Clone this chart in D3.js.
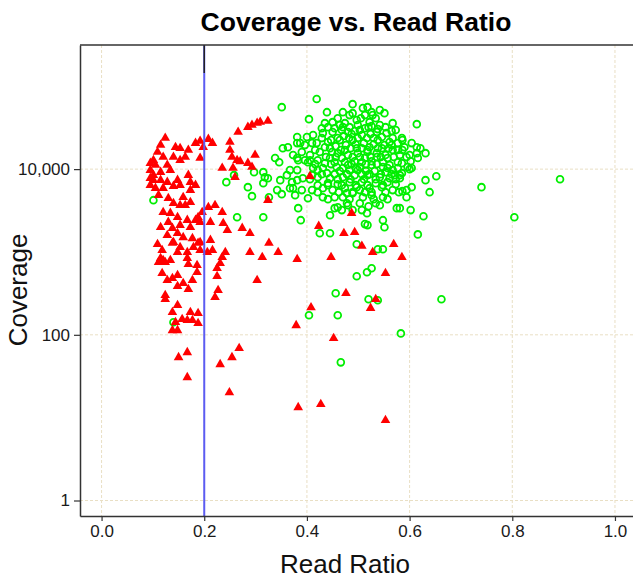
<!DOCTYPE html>
<html><head><meta charset="utf-8">
<script src="https://cdn.jsdelivr.net/npm/d3@7"></script>
<style>body{margin:0;background:#fff}svg{display:block}</style>
</head><body>
<svg id="chart" width="633" height="578"></svg>
<script>
// ---- data ----
const chartTitle = "Coverage vs. Read Ratio";
const xLabel = "Read Ratio";
const yLabel = "Coverage";
const xTicks = [0, 0.2, 0.4, 0.6, 0.8, 1.0];
const yTicks = [1, 100, 10000];
const threshold = 0.2;

// red triangles: [read ratio, coverage]
const redPoints = [
[0.124,23700],[0.115,19500],[0.144,18400],[0.153,17900],[0.169,17000],[0.183,20600],[0.192,21800],[0.208,23000],[0.216,20600],[0.198,18400],
[0.120,14000],[0.140,14000],[0.163,14000],[0.192,13600],[0.101,12800],[0.105,11200],[0.095,9730],[0.101,8460],[0.115,9200],[0.134,9730],
[0.101,7360],[0.115,7360],[0.128,6960],[0.148,7360],[0.169,8460],[0.173,6960],[0.105,5890],[0.120,5890],[0.140,6230],[0.153,6410],
[0.173,5580],[0.095,6410],[0.159,4580],[0.140,3880],[0.153,3670],[0.163,3670],[0.173,3990],[0.120,3020],[0.134,2940],[0.148,2630],
[0.167,2420],[0.183,2420],[0.196,3020],[0.208,3470],[0.221,3670],[0.235,3020],[0.130,2290],[0.115,1990],[0.138,1940],[0.153,2110],
[0.173,1990],[0.192,2290],[0.212,2290],[0.237,2220],[0.274,1940],[0.289,1680],[0.245,1830],[0.128,1590],[0.148,1680],[0.159,1500],
[0.140,1310],[0.177,1460],[0.192,1310],[0.212,1390],[0.109,1240],[0.153,1140],[0.179,1140],[0.138,1280],[0.167,992],[0.148,992],
[0.192,1050],[0.206,992],[0.216,1050],[0.241,992],[0.289,992],[0.313,864],[0.115,840],[0.124,751],[0.134,795],[0.111,751],
[0.167,840],[0.169,710],[0.186,692],[0.235,864],[0.231,731],[0.225,636],[0.118,553],[0.128,456],[0.138,482],[0.148,524],
[0.159,419],[0.148,386],[0.177,456],[0.186,569],[0.225,509],[0.303,456],[0.169,355],[0.227,345],[0.221,284],[0.124,300],
[0.124,268],[0.148,227],[0.138,187],[0.173,187],[0.188,182],[0.157,154],[0.167,150],[0.177,150],[0.188,138],[0.144,142],
[0.138,113],[0.148,113],[0.150,53.4],[0.167,61.4],[0.167,30.6],[0.231,44.0],[0.254,53.4],[0.268,68.7],[0.249,20.1],
[0.250,21200],[0.266,28000],[0.285,32100],[0.293,34000],[0.303,36000],[0.309,37000],[0.324,38000],[0.250,17000],[0.254,14000],[0.264,12800],
[0.270,12400],[0.299,14800],[0.285,11800],[0.293,10600],[0.235,10300],[0.256,10300],[0.260,7990],[0.324,4220],
[0.188,2630],[0.406,8220],[0.487,2940],[0.423,2050],[0.472,1680],[0.493,1730],[0.326,1280],
[0.344,992],[0.381,818],[0.447,864],[0.507,1180],[0.528,992],[0.569,1240],[0.585,864],[0.553,553],[0.476,317],[0.534,269],
[0.524,210],[0.408,214],[0.379,130],[0.452,90.8],[0.383,13.3],[0.427,14.5],[0.553,9.3],[0.120,795],[0.118,1050],[0.188,1280],[0.095,7790],
[0.109,16100],[0.095,11800],[0.111,4850],[0.128,11200],[0.153,12800],[0.183,6410],[0.130,4460]
];

// green circles: [read ratio, coverage]
const greenPoints = [
[0.101,4220],[0.140,142],[0.243,6960],[0.258,8460],[0.297,9200],[0.285,6060],[0.293,4720],[0.264,2630],[0.315,2630],[0.351,56000],
[0.381,24400],[0.353,17900],[0.363,18400],[0.338,13600],[0.346,12100],[0.373,14800],[0.381,13600],[0.315,9200],[0.318,7990],[0.324,7770],
[0.315,6770],[0.348,7360],[0.361,8460],[0.371,6960],[0.381,9730],[0.342,5580],[0.351,4990],[0.367,5890],[0.326,4580],[0.383,3380],
[0.388,2420],[0.419,70200],[0.439,48700],[0.404,40100],[0.614,34900],[0.567,35900],[0.509,54500],[0.518,56000],[0.551,47400],[0.425,1680],
[0.445,1680],[0.445,2780],[0.454,3380],[0.460,3470],[0.480,3670],[0.517,2940],[0.513,2170],[0.518,2110],[0.548,2420],[0.551,1990],
[0.534,3880],[0.575,3380],[0.602,3200],[0.627,2700],[0.616,1630],[0.631,7360],[0.652,8220],[0.639,5270],[0.604,6060],[0.594,4580],
[0.614,18400],[0.621,17900],[0.631,15600],[0.604,10300],[0.586,22400],[0.586,17000],[0.594,14000],[0.614,15600],[0.616,13600],[0.602,12450],
[0.585,11800],[0.600,10000],[0.585,8940],[0.581,7770],[0.586,5420],[0.581,3380],[0.740,6060],[0.893,7560],[0.804,2630],[0.497,1240],
[0.538,1080],[0.548,1080],[0.526,636],[0.517,569],[0.497,509],[0.456,317],[0.520,269],[0.538,261],[0.662,269],[0.404,172],
[0.460,172],[0.583,104],[0.466,46.5],[0.390,5580],[0.410,5580],
[0.542,51600],[0.528,44900],[0.513,44900],[0.483,44900],[0.489,47400],[0.450,36900],[0.435,35900],[0.464,34000],[0.474,35900],[0.497,39100],
[0.522,36900],[0.542,34000],[0.400,24400],[0.412,25800],[0.431,27200],[0.450,28000],[0.480,28000],[0.503,29600],[0.536,28000],[0.555,27200],
[0.585,23700],[0.381,20600],[0.396,19500],[0.419,20600],[0.441,21200],[0.464,22400],[0.489,22400],[0.517,23700],[0.538,22400],[0.561,21200],
[0.590,18400],[0.600,14800],[0.390,16100],[0.406,14800],[0.425,16100],[0.449,16100],[0.474,17000],[0.497,17900],[0.522,18400],[0.546,17900],
[0.567,17000],[0.581,14800],[0.402,12100],[0.421,12800],[0.445,13600],[0.468,13600],[0.489,14000],[0.513,13600],[0.536,14000],[0.557,13600],
[0.577,12100],[0.596,10600],[0.367,9730],[0.412,10300],[0.431,10300],[0.458,10600],[0.480,11200],[0.503,10600],[0.526,11200],[0.548,10600],
[0.567,9730],[0.381,7360],[0.392,7770],[0.421,7990],[0.445,7770],[0.470,7990],[0.493,8460],[0.518,8460],[0.542,7990],[0.561,7770],
[0.581,8460],[0.373,5890],[0.431,5890],[0.450,5580],[0.474,5890],[0.497,6060],[0.522,5890],[0.546,6060],[0.567,5580],[0.594,5580],
[0.454,4580],[0.489,5130],[0.509,4580],[0.526,4850],[0.548,4580],[0.503,3880],[0.520,3570],[0.478,3880],[0.377,4850],[0.402,4460],
[0.431,4580],[0.470,4580],[0.542,3670],
[0.454,31200],[0.468,29600],[0.483,32100],[0.499,34000],[0.513,31200],[0.526,33000],[0.538,30400],[0.472,25100],[0.487,26500],[0.507,25800],
[0.524,26500],[0.546,24400],[0.456,18950],[0.476,19500],[0.495,20000],[0.511,20600],[0.530,20000],[0.551,19500],[0.460,15600],[0.480,14800],
[0.499,15600],[0.518,16100],[0.536,15600],[0.553,14800],[0.454,12100],[0.474,12100],[0.493,12450],[0.507,12100],[0.526,12450],[0.548,12100],
[0.464,9460],[0.483,9730],[0.499,9730],[0.515,9460],[0.532,9460],[0.553,9200],[0.439,8940],[0.421,9730],[0.435,18400],[0.416,17000],
[0.447,22400],[0.429,31200],[0.565,19500],[0.573,29600],[0.561,11200],[0.573,6580],[0.557,6960],[0.534,6770],[0.507,6960],[0.483,6960],
[0.460,6580],[0.441,6770],[0.421,6410],[0.410,8460],[0.396,12800],[0.503,5580],[0.526,5270],[0.478,5130],[0.435,11800],[0.571,8460],
[0.460,41200],[0.505,41200],[0.534,41200],[0.441,32100],[0.470,32100],[0.520,32100],[0.553,32100],[0.493,28800],[0.565,28800],
[0.429,23700],[0.460,23700],[0.482,23700],[0.499,23700],[0.530,23700],[0.567,23700],[0.445,17900],[0.485,17900],[0.507,17900],[0.538,17900],
[0.559,17900],[0.466,17000],[0.518,17000],[0.577,17000],[0.437,14000],[0.456,14000],[0.503,14000],[0.524,14000],[0.544,14000],[0.569,14000],
[0.416,11500],[0.447,11500],[0.487,11500],[0.515,11500],[0.536,11500],[0.470,10300],[0.495,10300],[0.557,10300],[0.577,10300],
[0.429,8700],[0.454,8700],[0.478,8700],[0.507,8700],[0.522,8700],[0.544,8700],[0.565,8700],[0.406,7560],[0.460,7560],[0.485,7560],
[0.511,7560],[0.534,7560],[0.573,7560],[0.441,6410],[0.468,6410],[0.495,6410],[0.518,6410],[0.548,6410],[0.421,5270],[0.462,5270],
[0.489,5270],[0.513,5270],[0.553,5270],[0.579,5270],[0.441,4340],[0.483,4340],[0.530,4340],[0.557,4340],[0.468,3200],[0.489,3200],
[0.507,3200],[0.387,20600],[0.410,20600],[0.577,20600],[0.604,20600],[0.383,12800],[0.406,12800],[0.470,48700],[0.526,48700],[0.489,60900]
];

// ---- layout ----
const W = 633, H = 578;
const plot = {left: 80, top: 45, right: 635.5, bottom: 516};
const FONT = "'Liberation Sans', Arial, Helvetica, sans-serif";

const svg = d3.select("#chart");
const x = d3.scaleLinear().domain([-0.042, 1.04]).range([plot.left, plot.right]);
const y = d3.scaleLog().domain([0.65, 315000]).range([plot.bottom, plot.top]);

svg.append("defs").append("clipPath").attr("id", "clip")
  .append("rect").attr("x", plot.left).attr("y", plot.top)
  .attr("width", plot.right - plot.left).attr("height", plot.bottom - plot.top);

// gridlines
const grid = svg.append("g").attr("stroke", "#e9dfc4").attr("stroke-width", 1).attr("stroke-dasharray", "3,2");
grid.selectAll("line.vx").data(xTicks).join("line")
  .attr("x1", d => x(d)).attr("x2", d => x(d)).attr("y1", plot.top).attr("y2", plot.bottom);
grid.selectAll("line.hy").data(yTicks).join("line")
  .attr("x1", plot.left).attr("x2", plot.right).attr("y1", d => y(d)).attr("y2", d => y(d));

// points
const marks = svg.append("g").attr("clip-path", "url(#clip)");
marks.append("g").selectAll("circle").data(greenPoints).join("circle")
  .attr("cx", d => x(d[0])).attr("cy", d => y(d[1])).attr("r", 3.4)
  .attr("fill", "none").attr("stroke", "#00ee00").attr("stroke-width", 1.8);
const tri = d3.symbol().type(d3.symbolTriangle).size(40);
marks.append("g").selectAll("path").data(redPoints).join("path")
  .attr("d", tri).attr("transform", d => `translate(${x(d[0])},${y(d[1])})`)
  .attr("fill", "#ff0000");

// threshold line
svg.append("line").attr("x1", x(threshold)).attr("x2", x(threshold))
  .attr("y1", plot.top).attr("y2", plot.bottom)
  .attr("stroke", "#5c5cf2").attr("stroke-width", 2);
svg.append("line").attr("x1", x(threshold)).attr("x2", x(threshold))
  .attr("y1", plot.top).attr("y2", plot.top + 28)
  .attr("stroke", "#222").attr("stroke-width", 1.5);

// axes
const yAxis = svg.append("g").attr("transform", `translate(${plot.left},0)`)
  .call(d3.axisLeft(y).tickValues(yTicks).tickFormat(d3.format(",")).tickSize(6).tickSizeOuter(0).tickPadding(4));
const xAxis = svg.append("g").attr("transform", `translate(0,${plot.bottom})`)
  .call(d3.axisBottom(x).tickValues(xTicks).tickFormat(d3.format(".1f")).tickSize(5).tickSizeOuter(0).tickPadding(4));
[yAxis, xAxis].forEach(a => {
  a.selectAll("path.domain").attr("stroke", "#333").attr("stroke-width", 1.5);
  a.selectAll(".tick line").attr("stroke", "#333").attr("stroke-width", 1.2);
  a.selectAll(".tick text").attr("fill", "#1a1a1a").style("font-family", FONT).style("font-size", "17px");
});
svg.append("line").attr("x1", plot.left).attr("x2", W).attr("y1", plot.top).attr("y2", plot.top)
  .attr("stroke", "#333").attr("stroke-width", 1.5);

// titles
svg.append("text").attr("x", 356).attr("y", 31).attr("text-anchor", "middle")
  .style("font-family", FONT).style("font-size", "26.5px").style("font-weight", "bold").attr("fill", "#000")
  .text(chartTitle);
svg.append("text").attr("x", 345).attr("y", 573).attr("text-anchor", "middle")
  .style("font-family", FONT).style("font-size", "26px").attr("fill", "#111")
  .text(xLabel);
svg.append("text").attr("transform", "translate(27,290) rotate(-90)").attr("text-anchor", "middle")
  .style("font-family", FONT).style("font-size", "26px").attr("fill", "#111")
  .text(yLabel);
</script>
</body></html>
